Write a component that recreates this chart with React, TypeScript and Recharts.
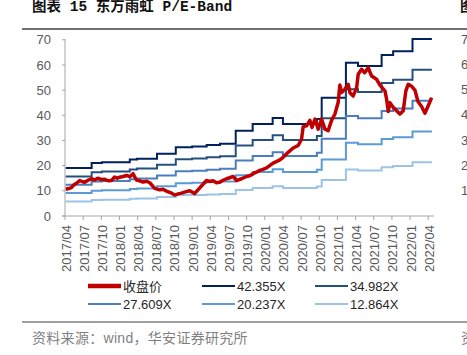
import React from 'react';
import { LineChart, Line, XAxis, YAxis } from 'recharts';

// x values are months counted from 2017/04 (0 = 2017/04, 60 = 2022/04)
const quarterLabels = [
  '2017/04', '2017/07', '2017/10', '2018/01', '2018/04', '2018/07', '2018/10',
  '2019/01', '2019/04', '2019/07', '2019/10', '2020/01', '2020/04', '2020/07',
  '2020/10', '2021/01', '2021/04', '2021/07', '2021/10', '2022/01', '2022/04',
];
const quarterTicks = quarterLabels.map((_, i) => i * 3);
const yTicks = [0, 10, 20, 30, 40, 50, 60, 70];

// 收盘价
const priceMonths = [
  0.1, 0.6, 1.06, 1.4, 1.77, 2.43, 2.9, 3.26, 3.8, 4.36, 4.9, 5.4, 6.0, 6.56, 7.1,
  7.67, 8.2, 8.6, 9.04, 9.6, 10.15, 10.7, 11.24, 11.8, 12.3, 12.9, 13.5, 14.0,
  14.83, 15.65, 16.2, 16.76, 17.4, 18.1, 18.7, 19.24, 19.9, 20.6, 21.4, 22.26,
  22.8, 23.37, 23.9, 24.46, 25.0, 25.57, 26.1, 26.68, 27.2, 27.77, 28.33, 29.16,
  29.98, 30.5, 31.07, 31.6, 32.18, 32.7, 33.29, 33.8, 34.38, 34.9, 35.49, 36.03,
  36.86, 37.69, 38.51, 39.07, 39.34, 39.9, 40.45, 40.8, 41.3, 41.82, 42.38, 42.93,
  43.47, 44.03, 44.58, 45.12, 45.4, 45.68, 46.23, 46.78, 47.06, 47.6, 48.17, 48.43,
  48.98, 49.5, 50.08, 50.64, 51.47, 52.02, 52.85, 53.12, 53.4, 53.67, 54.23, 54.77,
  55.32, 55.87, 56.3, 56.69, 57.26, 57.8, 58.3, 58.9, 59.45, 60.0, 60.56,
];
const priceValues = [
  10.6, 10.9, 11.3, 12.2, 12.8, 14.1, 13.6, 13.4, 14.2, 14.8, 14.3, 15.0, 14.5,
  14.6, 14.0, 14.1, 15.5, 15.0, 15.4, 15.7, 16.1, 15.6, 16.8, 14.3, 14.0, 13.5,
  13.8, 13.2, 11.0, 10.4, 10.6, 9.9, 9.3, 8.3, 8.8, 9.1, 9.6, 10.0, 8.9, 11.2,
  12.6, 14.1, 13.7, 14.0, 13.2, 13.4, 14.2, 14.8, 15.2, 15.7, 14.1, 14.8,
  15.7, 16.0, 16.8, 17.4, 18.1, 18.5, 19.1, 20.0, 21.0, 21.6, 22.3, 23.3,
  25.3, 27.0, 28.0, 30.5, 35.5, 35.8, 38.0, 35.2, 38.5, 34.5, 38.5, 34.5,
  33.9, 38.0, 40.5, 45.1, 52.0, 49.0, 50.4, 52.3, 49.0, 47.7, 51.0, 56.3,
  58.3, 56.9, 58.9, 55.6, 54.3, 52.0, 49.7, 46.4, 41.5, 45.0, 43.1, 41.8,
  40.5, 41.8, 49.7, 52.3, 51.5, 50.0, 45.5, 43.5, 40.8, 43.8, 47.0,
];

// EPS used for the bands
const epsMonths = [
  0.1, 4.4, 6.1, 10.7, 11.9, 15.2, 18.3, 21.0, 23.4, 25.6, 28.2, 31.0, 34.3, 36.0,
  41.6, 42.4, 46.4, 48.4, 52.3, 54.2, 57.4, 60.6,
];
const epsValues = [
  0.449, 0.496, 0.505, 0.529, 0.538, 0.583, 0.645, 0.652, 0.666, 0.678, 0.8, 0.862,
  0.918, 0.862, 0.909, 1.11, 1.438, 1.407, 1.509, 1.546, 1.66, 1.66,
];

const peMultiples = [42.355, 34.982, 27.609, 20.237, 12.864];
const bandNames = ['42.355X', '34.982X', '27.609X', '20.237X', '12.864X'];
const bandColors = ['#002060', '#24507E', '#4A7EBF', '#5B9BD5', '#9DC3E6'];

const priceData = priceMonths.map((m, i) => ({ m, v: priceValues[i] }));
const bandData = peMultiples.map((pe) =>
  epsMonths.map((m, i) => ({ m, v: +(epsValues[i] * pe).toFixed(2) }))
);

const SANS = "'Liberation Sans', Arial, 'Noto Sans CJK SC', sans-serif";

const DateTick = (props: any) => {
  const { x, y, payload } = props;
  const label = quarterLabels[Math.round(payload.value / 3)];
  return (
    <text
      x={x + 1}
      y={y}
      transform={`rotate(-90, ${x + 1}, ${y})`}
      textAnchor="end"
      dominantBaseline="central"
      fill="#595959"
      fontSize={13}
      fontFamily={SANS}
    >
      {label}
    </text>
  );
};

const legendItems = [
  { name: '收盘价', color: '#C00000', w: 4.5, x: 88, y: 286 },
  { name: bandNames[0], color: bandColors[0], w: 2, x: 202, y: 286 },
  { name: bandNames[1], color: bandColors[1], w: 2, x: 315, y: 286 },
  { name: bandNames[2], color: bandColors[2], w: 2, x: 88, y: 304 },
  { name: bandNames[3], color: bandColors[3], w: 2, x: 202, y: 304 },
  { name: bandNames[4], color: bandColors[4], w: 2, x: 315, y: 304 },
];

export default function App() {
  return (
    <div
      style={{
        position: 'absolute',
        left: 0,
        top: 0,
        width: 467,
        height: 355,
        overflow: 'hidden',
        background: '#fff',
      }}
    >
      <svg width={467} height={355} style={{ position: 'absolute', left: 0, top: 0 }}>
        <text
          x={32}
          y={11}
          fontSize={14.5}
          fontWeight="bold"
          fill="#111"
          fontFamily="'Liberation Mono', 'Noto Sans CJK SC', monospace"
        >
          图表 15 东方雨虹 P/E-Band
        </text>
        <text x={460} y={11} fontSize={14.5} fontWeight="bold" fill="#111" fontFamily="'Noto Sans CJK SC'">
          图
        </text>
        <line x1={22} x2={467} y1={29} y2={29} stroke="#404040" strokeWidth={1.3} />

        {[70, 60, 50, 40, 30, 20, 10].map((v, i) => (
          <text key={v} x={461} y={39 + i * 25.3} dominantBaseline="central" fontSize={13} fill="#595959" fontFamily={SANS}>
            {v}
          </text>
        ))}

        {legendItems.map((it) => (
          <g key={it.name}>
            <line x1={it.x} x2={it.x + 33} y1={it.y} y2={it.y} stroke={it.color} strokeWidth={it.w} />
            <text x={it.x + 35} y={it.y} dominantBaseline="central" fontSize={13} fill="#262626" fontFamily={SANS}>
              {it.name}
            </text>
          </g>
        ))}

        <line x1={22} x2={467} y1={322} y2={322} stroke="#808080" strokeWidth={1.5} />
        <text x={32} y={343} fontSize={14} letterSpacing={0.3} fill="#7F7F7F" fontFamily={SANS}>
          资料来源：wind，华安证券研究所
        </text>
        <text x={461} y={343} fontSize={14} fill="#7F7F7F" fontFamily={SANS}>
          资
        </text>
        <line x1={62} x2={65} y1={216} y2={216} stroke="#A6A6A6" strokeWidth={1} />
      </svg>

      <div style={{ position: 'absolute', left: 0, top: 0 }}>
        <LineChart width={467} height={276} margin={{ top: 39, right: 33, left: 0, bottom: 0 }}>
          <XAxis
            dataKey="m"
            type="number"
            domain={[0, 60.95]}
            ticks={quarterTicks}
            interval={0}
            height={60}
            tickSize={4}
            tickMargin={5}
            stroke="#A6A6A6"
            tick={<DateTick />}
            allowDataOverflow
          />
          <YAxis
            type="number"
            domain={[0, 70]}
            ticks={yTicks}
            width={65}
            tickSize={3}
            tickMargin={11}
            stroke="#A6A6A6"
            tick={{ fill: '#595959', fontSize: 13, fontFamily: SANS }}
          />
          {bandData.map((d, i) => (
            <Line
              key={bandNames[i]}
              data={d}
              dataKey="v"
              type="stepAfter"
              stroke={bandColors[i]}
              strokeWidth={2}
              dot={false}
              isAnimationActive={false}
            />
          ))}
          <Line
            data={priceData}
            dataKey="v"
            type="linear"
            stroke="#C00000"
            strokeWidth={3.5}
            strokeLinejoin="round"
            dot={false}
            isAnimationActive={false}
          />
        </LineChart>
      </div>
    </div>
  );
}
